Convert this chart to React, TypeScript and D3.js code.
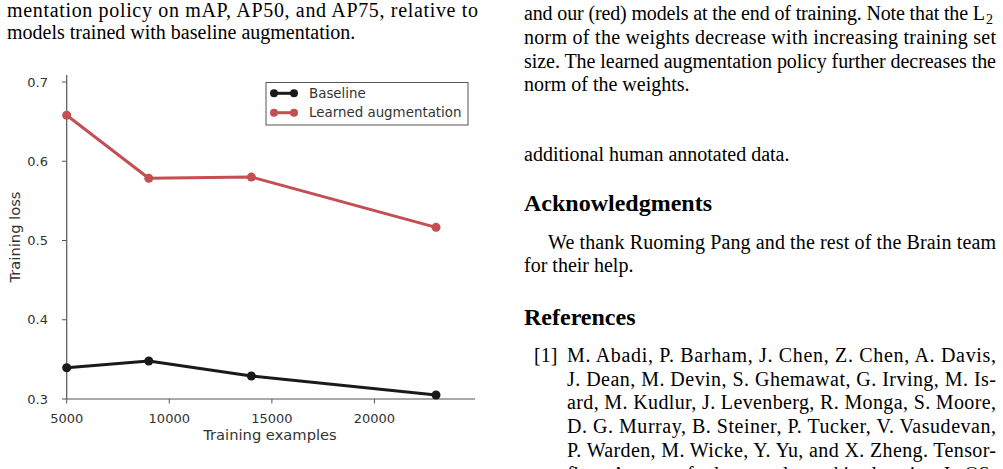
import * as d3 from 'd3';

// training-set sizes and loss values
const trainingExamples = [5000, 9000, 14000, 23000];
const baselineLoss = [0.3395, 0.348, 0.329, 0.305];
const learnedLoss = [0.658, 0.5785, 0.58, 0.5166];
const xTicks = [5000, 10000, 15000, 20000];
const yTicks = [0.3, 0.4, 0.5, 0.6, 0.7];
const seriesNames = ['Baseline', 'Learned augmentation'];
const seriesColors = ['#1a1a1a', '#c44e52'];

const leftLines = [
  { text: 'mentation policy on mAP, AP50, and AP75, relative to', x: 7, y: 17, w: 471 },
  { text: 'models trained with baseline augmentation.', x: 7, y: 39, w: 0 },
];

const rightLines = [
  { text: 'and our (red) models at the end of training. Note that the L', x: 524, y: 20, w: 461, sub: '2' },
  { text: 'norm of the weights decrease with increasing training set', x: 524, y: 44, w: 472 },
  { text: 'size. The learned augmentation policy further decreases the', x: 524, y: 68, w: 472 },
  { text: 'norm of the weights.', x: 524, y: 91, w: 0 },
  { text: 'additional human annotated data.', x: 524, y: 161, w: 0 },
  { text: 'We thank Ruoming Pang and the rest of the Brain team', x: 548, y: 249, w: 448 },
  { text: 'for their help.', x: 524, y: 272, w: 0 },
  { text: '[1]', x: 534, y: 362, w: 0 },
  { text: 'M. Abadi, P. Barham, J. Chen, Z. Chen, A. Davis,', x: 567, y: 362, w: 429 },
  { text: 'J. Dean, M. Devin, S. Ghemawat, G. Irving, M. Is-', x: 567, y: 386, w: 429 },
  { text: 'ard, M. Kudlur, J. Levenberg, R. Monga, S. Moore,', x: 567, y: 409, w: 429 },
  { text: 'D. G. Murray, B. Steiner, P. Tucker, V. Vasudevan,', x: 567, y: 433, w: 429 },
  { text: 'P. Warden, M. Wicke, Y. Yu, and X. Zheng.  Tensor-', x: 567, y: 457, w: 429 },
  { text: 'flow: A system for large-scale machine learning. In OS-', x: 567, y: 481, w: 429 },
];

const headings = [
  { text: 'Acknowledgments', x: 524, y: 211 },
  { text: 'References', x: 524, y: 325 },
];

export default function App() {
  const x = d3.scaleLinear().domain([5000, 24900]).range([66.7, 475]);
  const y = d3.scaleLinear().domain([0.3, 0.7]).range([399, 82]);
  const line = d3
    .line<number>()
    .x((_, i) => x(trainingExamples[i]))
    .y((d) => y(d));
  const series = [baselineLoss, learnedLoss];
  const sans = 'DejaVu Sans, sans-serif';
  const serif = 'Liberation Serif, Times New Roman, serif';

  return (
    <svg
      width={1003}
      height={469}
      style={{ position: 'absolute', left: 0, top: 0, background: '#fff' }}
    >
      {/* surrounding page text */}
      <g fontFamily={serif} fontSize={20} fill="#000">
        {leftLines.concat(rightLines).map((l, i) => (
          <g key={i}>
            <text
              x={l.x}
              y={l.y}
              {...(l.w ? { textLength: l.w, lengthAdjust: 'spacing' } : {})}
            >
              {l.text}
            </text>
            {'sub' in l && l.sub ? (
              <text x={l.x + l.w + 1} y={l.y + 4} fontSize={14}>
                {l.sub}
              </text>
            ) : null}
          </g>
        ))}
        {headings.map((h) => (
          <text key={h.text} x={h.x} y={h.y} fontSize={24} fontWeight="bold">
            {h.text}
          </text>
        ))}
      </g>

      {/* axes */}
      <g fontFamily={sans} fontSize={13} fill="#333">
        <line x1={x.range()[0]} x2={x.range()[0]} y1={75} y2={399} stroke="#555" strokeWidth={1.2} />
        <line x1={x.range()[0]} x2={x.range()[1]} y1={399} y2={399} stroke="#555" strokeWidth={1.2} />
        {yTicks.map((t) => (
          <g key={t}>
            <line x1={62} x2={66.7} y1={y(t)} y2={y(t)} stroke="#555" />
            <text x={48} y={y(t)} dy="0.35em" textAnchor="end">
              {t.toFixed(1)}
            </text>
          </g>
        ))}
        {xTicks.map((t) => (
          <g key={t}>
            <line x1={x(t)} x2={x(t)} y1={399} y2={403.5} stroke="#555" />
            <text x={x(t)} y={418} dy="0.35em" textAnchor="middle">
              {t}
            </text>
          </g>
        ))}
        <text x={270} y={435} dy="0.35em" textAnchor="middle" fontSize={14.7}>
          Training examples
        </text>
        <text
          transform="translate(15,237) rotate(-90)"
          dy="0.35em"
          textAnchor="middle"
          fontSize={14.7}
        >
          Training loss
        </text>
      </g>

      {/* series */}
      {series.map((s, k) => (
        <g key={k}>
          <path d={line(s) ?? ''} fill="none" stroke={seriesColors[k]} strokeWidth={3} strokeLinejoin="round" />
          {s.map((v, i) => (
            <circle key={i} cx={x(trainingExamples[i])} cy={y(v)} r={4.5} fill={seriesColors[k]} />
          ))}
        </g>
      ))}

      {/* legend */}
      <g fontFamily={sans} fontSize={13.4} fill="#333">
        <rect x={266} y={82.5} width={202} height={42.5} fill="#fff" stroke="#555" strokeWidth={1} />
        {seriesNames.map((n, k) => {
          const ly = 93.3 + k * 19.4;
          return (
            <g key={n}>
              <line x1={274} x2={294} y1={ly} y2={ly} stroke={seriesColors[k]} strokeWidth={3} />
              <circle cx={274} cy={ly} r={4} fill={seriesColors[k]} />
              <circle cx={294} cy={ly} r={4} fill={seriesColors[k]} />
              <text x={309} y={ly} dy="0.35em">
                {n}
              </text>
            </g>
          );
        })}
      </g>
    </svg>
  );
}
